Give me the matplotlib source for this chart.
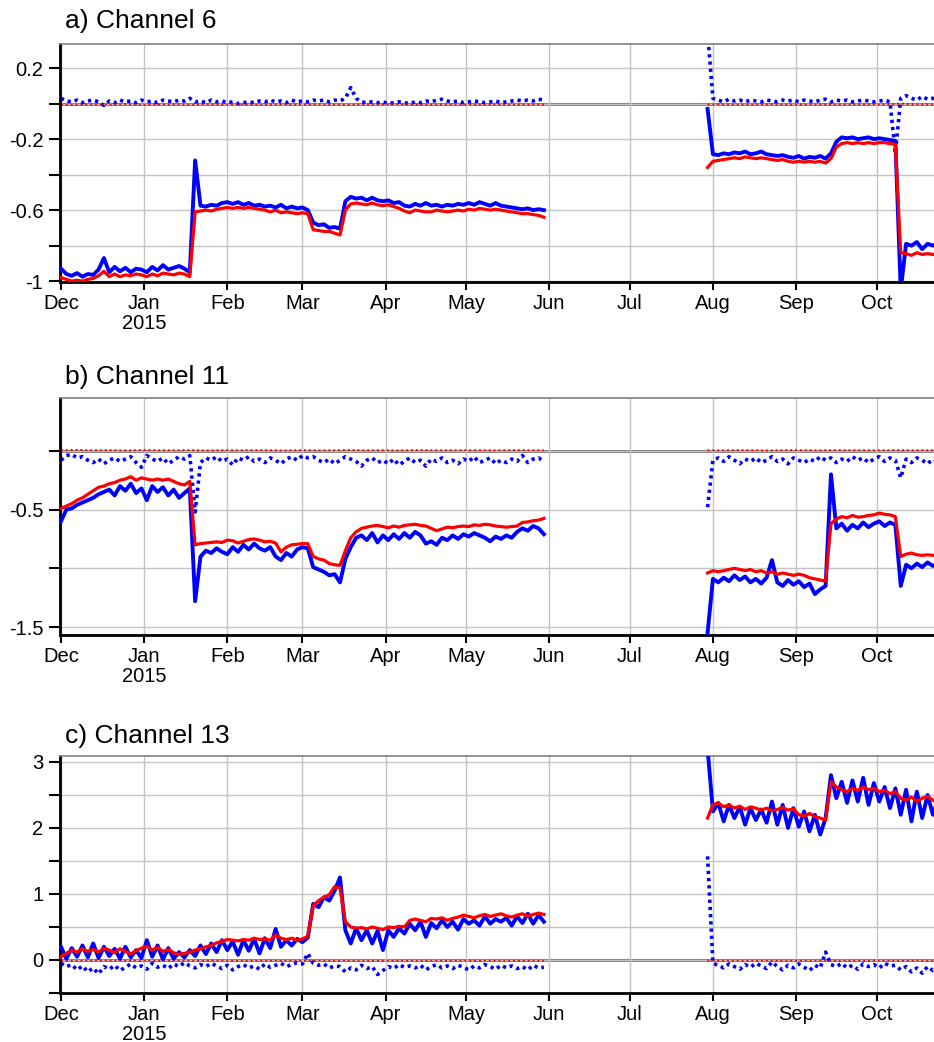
import pandas as pd
import matplotlib
matplotlib.use("Agg")
import matplotlib.pyplot as plt
from datetime import datetime, timedelta

plt.rcParams['font.family'] = ['Liberation Sans', 'DejaVu Sans']
plt.rcParams['axes.unicode_minus'] = False

# sample dates for the two measurement periods (every 2 days)
days_1 = pd.date_range('2014-12-01', '2015-05-30', freq='2D')
days_2 = pd.date_range('2015-07-30', '2015-10-24', freq='2D')
# coarser sampling for the red dotted (near-zero) series
days_1c = pd.date_range('2014-12-01', '2015-05-30', freq='6D')
days_2c = pd.date_range('2015-07-30', '2015-10-22', freq='6D')

# ---------------- a) Channel 6 ----------------
a_blue_1 = [-0.93, -0.96, -0.97, -0.955, -0.975, -0.96, -0.965, -0.935, -0.87, -0.95,
            -0.92, -0.945, -0.925, -0.95, -0.93, -0.935, -0.95, -0.92, -0.94, -0.91,
            -0.935, -0.925, -0.915, -0.93, -0.95, -0.32, -0.575, -0.58, -0.57, -0.575,
            -0.56, -0.555, -0.565, -0.555, -0.57, -0.56, -0.575, -0.57, -0.58, -0.575,
            -0.585, -0.57, -0.59, -0.58, -0.59, -0.585, -0.60, -0.67, -0.685, -0.68,
            -0.70, -0.695, -0.705, -0.55, -0.525, -0.535, -0.53, -0.545, -0.53, -0.545,
            -0.55, -0.545, -0.56, -0.555, -0.575, -0.58, -0.565, -0.575, -0.56, -0.575,
            -0.57, -0.58, -0.57, -0.575, -0.565, -0.57, -0.56, -0.57, -0.555, -0.565,
            -0.575, -0.56, -0.575, -0.58, -0.585, -0.59, -0.595, -0.59, -0.60, -0.595,
            -0.60]
a_red_1 = [-0.98, -0.99, -1.0, -0.995, -1.0, -0.99, -0.985, -0.97, -0.945, -0.975,
           -0.96, -0.975, -0.965, -0.97, -0.96, -0.965, -0.975, -0.96, -0.97, -0.955,
           -0.96, -0.965, -0.955, -0.96, -0.975, -0.61, -0.605, -0.60, -0.605, -0.595,
           -0.59, -0.585, -0.59, -0.585, -0.59, -0.585, -0.59, -0.595, -0.60, -0.61,
           -0.60, -0.615, -0.61, -0.615, -0.62, -0.615, -0.62, -0.71, -0.715, -0.72,
           -0.72, -0.73, -0.74, -0.60, -0.565, -0.56, -0.565, -0.57, -0.56, -0.57,
           -0.575, -0.57, -0.58, -0.59, -0.605, -0.615, -0.60, -0.605, -0.61, -0.61,
           -0.60, -0.605, -0.61, -0.605, -0.60, -0.605, -0.595, -0.60, -0.59, -0.595,
           -0.60, -0.595, -0.60, -0.605, -0.61, -0.615, -0.62, -0.62, -0.625, -0.63,
           -0.64]
a_bdot_1 = [0.03, 0.015, 0.01, 0.02, 0.005, 0.015, 0.02, 0.01, -0.01, 0.015,
            0.005, 0.02, 0.01, 0.015, 0.005, 0.02, 0.01, 0.015, 0.005, 0.02,
            0.015, 0.01, 0.02, 0.015, 0.03, 0.01, 0.015, 0.005, 0.02, 0.01,
            0.015, 0.005, 0.01, 0.0, 0.005, 0.01, 0.005, 0.015, 0.01, 0.02,
            0.01, 0.015, 0.005, 0.02, 0.01, 0.015, 0.01, 0.02, 0.015, 0.02,
            0.01, 0.02, 0.015, 0.03, 0.09, 0.03, 0.01, 0.005, 0.01, 0.005,
            0.01, 0.0, 0.005, 0.01, 0.005, 0.0, 0.01, 0.005, 0.015, 0.01,
            0.02, 0.025, 0.015, 0.01, 0.015, 0.005, 0.01, 0.015, 0.01, 0.005,
            0.01, 0.015, 0.005, 0.01, 0.015, 0.02, 0.015, 0.02, 0.015, 0.025,
            0.02]
a_rdot_1 = [-0.005, -0.008, -0.004, -0.006, -0.003, -0.007, -0.005, -0.004, -0.006, -0.003,
            -0.005, -0.004, -0.006, -0.005, -0.003, -0.006, -0.004, -0.005, -0.007, -0.004,
            -0.005, -0.003, -0.006, -0.005, -0.004, -0.006, -0.005, -0.004, -0.006, -0.005,
            -0.004]
a_blue_2 = [-0.03, -0.285, -0.29, -0.28, -0.285, -0.275, -0.28, -0.27, -0.285, -0.28,
            -0.27, -0.285, -0.29, -0.295, -0.29, -0.30, -0.305, -0.295, -0.31, -0.30,
            -0.305, -0.295, -0.31, -0.28, -0.215, -0.19, -0.195, -0.19, -0.20, -0.195,
            -0.19, -0.20, -0.195, -0.20, -0.205, -0.21, -1.05, -0.79, -0.80, -0.78,
            -0.82, -0.79, -0.80, -0.785]
a_red_2 = [-0.36, -0.325, -0.32, -0.315, -0.31, -0.305, -0.31, -0.30, -0.305, -0.31,
           -0.305, -0.31, -0.315, -0.32, -0.315, -0.325, -0.33, -0.325, -0.33, -0.325,
           -0.33, -0.325, -0.335, -0.31, -0.245, -0.225, -0.22, -0.225, -0.22, -0.225,
           -0.22, -0.225, -0.22, -0.22, -0.225, -0.23, -0.84, -0.845, -0.855, -0.84,
           -0.85, -0.845, -0.85, -0.845]
a_bdot_2 = [0.40, 0.03, 0.02, 0.01, 0.025, 0.015, 0.02, 0.01, 0.02, 0.015,
            0.01, 0.02, 0.015, 0.01, 0.02, 0.015, 0.02, 0.01, 0.02, 0.015,
            0.01, 0.02, 0.025, 0.01, 0.02, 0.015, 0.02, 0.01, 0.015, 0.02,
            0.015, 0.01, 0.015, 0.02, 0.01, -0.28, 0.03, 0.045, 0.03, 0.02,
            0.04, 0.025, 0.03, 0.02]
a_rdot_2 = [-0.005, -0.004, -0.006, -0.005, -0.003, -0.006, -0.005, -0.004, -0.006, -0.005,
            -0.004, -0.005, 0.0, -0.004, -0.005]

# ---------------- b) Channel 11 ----------------
b_blue_1 = [-0.60, -0.50, -0.49, -0.46, -0.44, -0.42, -0.40, -0.37, -0.35, -0.33,
            -0.38, -0.30, -0.34, -0.28, -0.36, -0.32, -0.42, -0.30, -0.35, -0.31,
            -0.38, -0.33, -0.40, -0.36, -0.32, -1.28, -0.90, -0.85, -0.87, -0.83,
            -0.86, -0.88, -0.82, -0.86, -0.80, -0.84, -0.79, -0.83, -0.85, -0.82,
            -0.90, -0.93, -0.87, -0.90, -0.84, -0.82, -0.83, -0.99, -1.01, -1.03,
            -1.06, -1.05, -1.12, -0.92, -0.82, -0.74, -0.72, -0.76, -0.70, -0.78,
            -0.72, -0.76, -0.71, -0.75, -0.70, -0.74, -0.69, -0.72, -0.79, -0.77,
            -0.80, -0.74, -0.76, -0.72, -0.75, -0.71, -0.73, -0.70, -0.72, -0.74,
            -0.77, -0.73, -0.75, -0.72, -0.74, -0.69, -0.66, -0.68, -0.64, -0.66,
            -0.71]
b_red_1 = [-0.49, -0.47, -0.45, -0.42, -0.40, -0.37, -0.34, -0.31, -0.30, -0.28,
           -0.27, -0.25, -0.24, -0.22, -0.25, -0.23, -0.24, -0.25, -0.24, -0.25,
           -0.24, -0.26, -0.28, -0.29, -0.26, -0.80, -0.79, -0.785, -0.78, -0.775,
           -0.78, -0.76, -0.765, -0.785, -0.77, -0.755, -0.75, -0.76, -0.775, -0.77,
           -0.785, -0.86, -0.82, -0.80, -0.795, -0.79, -0.79, -0.90, -0.92, -0.93,
           -0.96, -0.97, -0.975, -0.85, -0.74, -0.69, -0.66, -0.65, -0.64, -0.635,
           -0.645, -0.655, -0.64, -0.65, -0.635, -0.63, -0.625, -0.635, -0.64, -0.66,
           -0.68, -0.665, -0.65, -0.655, -0.645, -0.64, -0.645, -0.63, -0.635, -0.625,
           -0.63, -0.64, -0.645, -0.65, -0.645, -0.64, -0.61, -0.605, -0.595, -0.59,
           -0.575]
b_bdot_1 = [-0.08, -0.04, -0.03, -0.06, -0.05, -0.08, -0.10, -0.07, -0.11, -0.08,
            -0.06, -0.09, -0.07, -0.05, -0.10, -0.14, -0.04, -0.07, -0.09, -0.06,
            -0.11, -0.08, -0.05, -0.07, -0.04, -0.52, -0.10, -0.06, -0.08, -0.05,
            -0.09, -0.07, -0.12, -0.06, -0.08, -0.05, -0.09, -0.07, -0.10, -0.06,
            -0.08, -0.11, -0.07, -0.05, -0.08, -0.04, -0.06, -0.05, -0.08, -0.10,
            -0.07, -0.11, -0.08, -0.05, -0.07, -0.09, -0.13, -0.08, -0.06, -0.10,
            -0.08, -0.11, -0.07, -0.12, -0.09, -0.06, -0.10, -0.08, -0.13, -0.07,
            -0.09, -0.06, -0.10, -0.08, -0.11, -0.07, -0.09, -0.05, -0.10, -0.08,
            -0.06, -0.11, -0.08, -0.10, -0.07, -0.09, -0.04, -0.10, -0.07, -0.06,
            -0.09]
b_rdot_1 = [0.005, 0.008, 0.004, 0.006, 0.003, 0.007, 0.005, 0.004, 0.006, 0.003,
            0.005, 0.004, 0.006, 0.005, 0.003, 0.006, 0.004, 0.005, 0.007, 0.004,
            0.005, 0.003, 0.006, 0.005, 0.004, 0.006, 0.005, 0.004, 0.006, 0.005,
            0.004]
b_blue_2 = [-1.55, -1.09, -1.12, -1.08, -1.11, -1.06, -1.10, -1.07, -1.12, -1.09,
            -1.13, -1.08, -0.93, -1.12, -1.15, -1.10, -1.14, -1.11, -1.16, -1.13,
            -1.22, -1.18, -1.15, -0.20, -0.66, -0.62, -0.68, -0.63, -0.66, -0.61,
            -0.65, -0.62, -0.60, -0.64, -0.61, -0.63, -1.15, -0.97, -1.00, -0.96,
            -0.99, -0.95, -0.98, -0.96]
b_red_2 = [-1.04, -1.02, -1.03, -1.02, -1.01, -1.00, -1.01, -1.02, -1.01, -1.03,
           -1.02, -1.04, -1.03, -1.05, -1.04, -1.05, -1.06, -1.05, -1.06, -1.08,
           -1.09, -1.10, -1.11, -0.62, -0.58, -0.56, -0.57, -0.55, -0.565, -0.56,
           -0.55, -0.545, -0.53, -0.54, -0.545, -0.56, -0.90, -0.88, -0.87, -0.885,
           -0.89, -0.885, -0.89, -0.885]
b_bdot_2 = [-0.48, -0.08, -0.06, -0.09, -0.05, -0.08, -0.11, -0.07, -0.09, -0.06,
            -0.10, -0.08, -0.05, -0.09, -0.07, -0.11, -0.06, -0.08, -0.10, -0.07,
            -0.09, -0.05, -0.08, -0.06, -0.10, -0.07, -0.09, -0.05, -0.08, -0.06,
            -0.10, -0.07, -0.05, -0.09, -0.06, -0.08, -0.23, -0.07, -0.10, -0.06,
            -0.08, -0.11, -0.07, -0.09]
b_rdot_2 = [0.005, 0.004, 0.006, 0.005, 0.003, 0.006, 0.005, 0.004, 0.006, 0.005,
            0.004, 0.005, 0.006, 0.004, 0.005]

# ---------------- c) Channel 13 ----------------
c_blue_1 = [0.20, 0.02, 0.18, 0.05, 0.22, 0.04, 0.25, 0.03, 0.20, 0.06,
            0.17, 0.02, 0.20, 0.04, 0.15, 0.03, 0.30, 0.05, 0.22, 0.01,
            0.18, 0.02, 0.12, 0.04, 0.15, 0.06, 0.22, 0.09, 0.25, 0.12,
            0.30, 0.15, 0.28, 0.08, 0.30, 0.14, 0.32, 0.10, 0.33, 0.18,
            0.47, 0.20, 0.30, 0.22, 0.32, 0.27, 0.34, 0.85, 0.80, 0.95,
            0.90, 1.05, 1.25, 0.45, 0.25, 0.48, 0.30, 0.45, 0.25, 0.44,
            0.15, 0.45, 0.35, 0.48, 0.40, 0.55, 0.45, 0.58, 0.35, 0.56,
            0.48, 0.60, 0.50, 0.58, 0.46, 0.62, 0.55, 0.60, 0.52, 0.66,
            0.55, 0.62, 0.58, 0.64, 0.52, 0.66, 0.56, 0.70, 0.55, 0.68,
            0.58]
c_red_1 = [0.05, 0.10, 0.15, 0.12, 0.17, 0.13, 0.16, 0.12, 0.18, 0.15,
           0.11, 0.17, 0.13, 0.09, 0.14, 0.18, 0.21, 0.15, 0.19, 0.13,
           0.16, 0.11, 0.08, 0.10, 0.12, 0.15, 0.17, 0.20, 0.22, 0.26,
           0.28, 0.31, 0.30, 0.29, 0.31, 0.30, 0.33, 0.31, 0.32, 0.30,
           0.38, 0.33, 0.31, 0.33, 0.30, 0.32, 0.36, 0.82, 0.90, 0.95,
           0.99, 1.11, 1.09, 0.58, 0.50, 0.48, 0.49, 0.47, 0.50, 0.48,
           0.46, 0.50, 0.49, 0.51, 0.50, 0.60, 0.62, 0.60, 0.58, 0.63,
           0.62, 0.64, 0.60, 0.63, 0.65, 0.68, 0.66, 0.64, 0.67, 0.69,
           0.66, 0.68, 0.70, 0.67, 0.65, 0.68, 0.70, 0.66, 0.69, 0.71,
           0.69]
c_bdot_1 = [-0.05, -0.10, -0.07, -0.15, -0.09, -0.18, -0.12, -0.21, -0.10, -0.14,
            -0.08, -0.16, -0.11, -0.06, -0.12, -0.09, -0.14, -0.05, -0.11, -0.08,
            -0.13, -0.06, -0.10, -0.04, -0.09, -0.12, -0.07, -0.10, -0.05, -0.09,
            -0.13, -0.08, -0.15, -0.10, -0.07, -0.12, -0.09, -0.14, -0.06, -0.11,
            -0.08, -0.05, -0.10, -0.07, -0.04, -0.06, 0.10, -0.05, -0.08, -0.06,
            -0.12, -0.09, -0.10, -0.18, -0.12, -0.15, -0.08, -0.13, -0.10, -0.22,
            -0.16, -0.10, -0.13, -0.07, -0.11, -0.09, -0.12, -0.08, -0.15, -0.10,
            -0.07, -0.12, -0.09, -0.13, -0.08, -0.11, -0.15, -0.09, -0.12, -0.07,
            -0.10, -0.14, -0.08, -0.12, -0.09, -0.13, -0.10, -0.15, -0.08, -0.12,
            -0.11]
c_rdot_1 = [-0.01, -0.012, -0.008, -0.01, -0.009, -0.011, -0.01, -0.008, -0.012, -0.01,
            -0.009, -0.011, -0.01, -0.008, -0.012, -0.01, -0.009, -0.011, -0.01, -0.008,
            -0.012, -0.01, -0.009, -0.011, -0.01, -0.008, -0.012, -0.01, -0.009, -0.011,
            -0.01]
c_blue_2 = [3.2, 2.25, 2.38, 2.10, 2.35, 2.15, 2.32, 2.05, 2.30, 2.12,
            2.28, 2.08, 2.40, 2.05, 2.35, 2.00, 2.30, 2.02, 2.25, 1.95,
            2.20, 1.90, 2.15, 2.80, 2.45, 2.70, 2.38, 2.72, 2.40, 2.76,
            2.35, 2.68, 2.40, 2.62, 2.30, 2.60, 2.20, 2.58, 2.10, 2.55,
            2.15, 2.50, 2.20, 2.45]
c_red_2 = [2.15, 2.35, 2.38, 2.32, 2.35, 2.30, 2.33, 2.28, 2.32, 2.30,
           2.27, 2.30, 2.26, 2.28, 2.31, 2.27, 2.29, 2.20, 2.18, 2.22,
           2.17, 2.15, 2.12, 2.70, 2.62, 2.58, 2.55, 2.60, 2.57, 2.62,
           2.58, 2.60, 2.55, 2.57, 2.52, 2.55, 2.45, 2.42, 2.47, 2.40,
           2.45, 2.48, 2.42, 2.38]
c_bdot_2 = [1.57, -0.05, -0.08, -0.12, -0.06, -0.10, -0.14, -0.07, -0.11, -0.05,
            -0.09, -0.13, -0.03, -0.10, -0.15, -0.08, -0.12, -0.06, -0.11, -0.16,
            -0.08, -0.12, 0.12, -0.07, -0.10, -0.05, -0.12, -0.08, -0.14, -0.06,
            -0.10, -0.07, -0.12, -0.05, -0.09, -0.08, -0.15, -0.10, -0.18, -0.12,
            -0.20, -0.10, -0.16, -0.12]
c_rdot_2 = [-0.01, -0.008, -0.012, -0.01, -0.009, -0.011, -0.01, -0.008, -0.012, -0.01,
            -0.009, -0.011, -0.01, -0.008, -0.01]

panels = [
    ("a) Channel 6", (a_blue_1, a_red_1, a_bdot_1, a_rdot_1), (a_blue_2, a_red_2, a_bdot_2, a_rdot_2),
     (-1.005, 0.336), [-1, -0.8, -0.6, -0.4, -0.2, 0, 0.2], ['-1', '', '-0.6', '', '-0.2', '', '0.2']),
    ("b) Channel 11", (b_blue_1, b_red_1, b_bdot_1, b_rdot_1), (b_blue_2, b_red_2, b_bdot_2, b_rdot_2),
     (-1.568, 0.45), [-1.5, -1, -0.5, 0], ['-1.5', '', '-0.5', '']),
    ("c) Channel 13", (c_blue_1, c_red_1, c_bdot_1, c_rdot_1), (c_blue_2, c_red_2, c_bdot_2, c_rdot_2),
     (-0.48, 3.09), [-0.5, 0, 0.5, 1, 1.5, 2, 2.5, 3], ['', '0', '', '1', '', '2', '', '3']),
]

W, H = 934, 1042
fig = plt.figure(figsize=(W / 100, H / 100), dpi=100)

# plot area (top, bottom) in pixels and vertical centre of the panel title
boxes = [(44, 282, 21), (398, 635, 377), (756, 993, 736)]
x_left = 60

t0 = datetime(2014, 12, 1)
xlim = (t0 - timedelta(days=0.37), t0 + timedelta(days=325.4))
month_ticks = pd.date_range('2014-12-01', '2015-10-01', freq='MS')
month_labels = [d.strftime('%b') + ('\n2015' if d.month == 1 else '') for d in month_ticks]

BLUE = '#0000ff'
RED = '#ff0000'

for (title, seg1, seg2, ylim, yt, ytl), (top, bot, ty) in zip(panels, boxes):
    ax = fig.add_axes([x_left / W, 1 - bot / H, (W - x_left) / W, (bot - top) / H])
    ax.set_xlim(xlim)
    ax.set_ylim(ylim)

    ax.grid(True, color='#c4c4c4', lw=1.0, zorder=0)
    ax.axhline(0, color='#505050', lw=1.8, zorder=1)

    for dates, dates_c, (blue, red, bdot, rdot) in [(days_1, days_1c, seg1), (days_2, days_2c, seg2)]:
        ax.plot(dates, bdot, color=BLUE, lw=2.6, ls=(0, (0.9, 1.1)), zorder=2)
        ax.plot(dates_c, rdot, color=RED, lw=1.4, ls=(0, (1, 1.5)), zorder=2.5)
        ax.plot(dates, blue, color=BLUE, lw=2.8, zorder=3)
        ax.plot(dates, red, color=RED, lw=2.3, zorder=4)

    ax.set_yticks(yt)
    ax.set_yticklabels(ytl)
    ax.set_xticks(month_ticks)
    ax.set_xticklabels(month_labels, linespacing=1.05)

    ax.tick_params(axis='y', direction='out', length=8, width=1.5, pad=4, labelsize=14.5)
    ax.tick_params(axis='x', direction='out', length=5.5, width=1.5, pad=3, labelsize=14.5)

    ax.spines['left'].set_linewidth(2)
    ax.spines['bottom'].set_linewidth(2)
    ax.spines['top'].set_color('#808080')
    ax.spines['top'].set_linewidth(1.2)
    ax.spines['right'].set_visible(False)

    fig.text(65 / W, 1 - ty / H, title, fontsize=19, va='center', ha='left')

fig.savefig('out.png', dpi=100)
